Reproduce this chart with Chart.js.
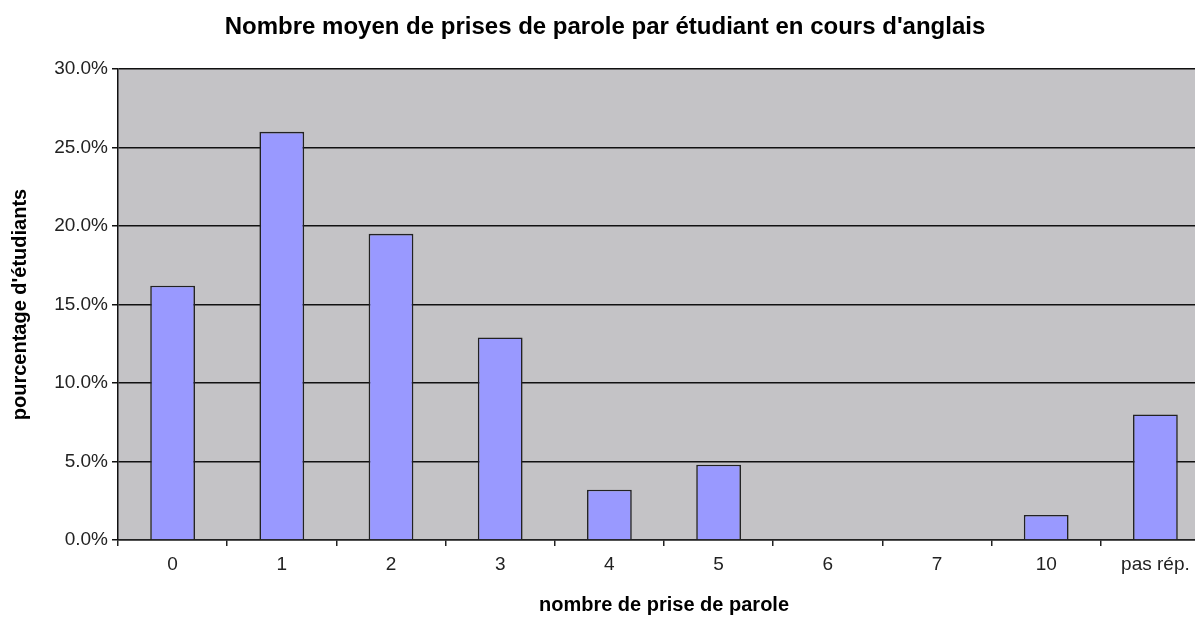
<!DOCTYPE html>
<html>
<head>
<meta charset="utf-8">
<script src="https://cdn.jsdelivr.net/npm/chart.js@4.4.1/dist/chart.umd.min.js"></script>
<style>
  html, body { margin: 0; padding: 0; background: #fff; overflow: hidden; }
  #wrap { position: relative; width: 1210px; height: 617px; }
</style>
</head>
<body>
<div id="wrap"><canvas id="chart"></canvas></div>
<script>
// données
const categories = ['0', '1', '2', '3', '4', '5', '6', '7', '10', 'pas rép.'];
const pourcentages = [16.2, 26.0, 19.5, 12.9, 3.2, 4.8, 0, 0, 1.6, 8.0];
const yTicks = [0, 5, 10, 15, 20, 25, 30];

const titre = "Nombre moyen de prises de parole par étudiant en cours d'anglais";
const titreX = 'nombre de prise de parole';
const titreY = "pourcentage d'étudiants";

// fond gris de la zone de traçage
const plotBackground = {
  id: 'plotBackground',
  beforeDraw(chart) {
    const { ctx, chartArea: a } = chart;
    ctx.save();
    ctx.fillStyle = '#c4c3c6';
    ctx.fillRect(a.left, a.top, a.right - a.left, a.bottom - a.top);
    ctx.restore();
  }
};

Chart.defaults.font.family = '"Liberation Sans", Arial, sans-serif';
Chart.defaults.color = '#222';

new Chart(document.getElementById('chart'), {
  type: 'bar',
  data: {
    labels: categories,
    datasets: [{
      data: pourcentages,
      backgroundColor: '#9999ff',
      borderColor: '#222',
      borderWidth: 1.6,
      categoryPercentage: 1,
      barPercentage: 0.41
    }]
  },
  options: {
    responsive: true,
    maintainAspectRatio: false,
    animation: false,
    layout: { padding: 0 },
    plugins: {
      legend: { display: false },
      tooltip: { enabled: false },
      title: {
        display: true,
        text: titre,
        color: '#000',
        font: { size: 24, weight: 'bold' },
        padding: { top: 13, bottom: 27.2 }
      }
    },
    scales: {
      x: {
        grid: {
          drawOnChartArea: false,
          drawTicks: true,
          tickLength: 6,
          color: '#222',
          lineWidth: 1.5,
          offset: true
        },
        border: { color: '#222', width: 1.5 },
        ticks: { font: { size: 19 }, padding: 7, color: '#222' },
        title: {
          display: true,
          text: titreX,
          color: '#000',
          font: { size: 20, weight: 'bold' },
          padding: { top: 0, bottom: 0 }
        },
        afterFit(scale) { scale.height = 77; }
      },
      y: {
        min: 0,
        max: 30,
        afterBuildTicks(scale) {
          scale.ticks = yTicks.map(v => ({ value: v }));
        },
        grid: {
          color: '#111',
          lineWidth: 1.5,
          tickLength: 6
        },
        border: { color: '#111', width: 1.5 },
        ticks: {
          font: { size: 19 },
          padding: 4,
          color: '#222',
          callback: v => v.toFixed(1) + '%'
        },
        title: {
          display: true,
          text: titreY,
          color: '#000',
          font: { size: 20, weight: 'bold' },
          padding: { top: 8, bottom: 0 }
        },
        afterFit(scale) { scale.width = 118; }
      }
    }
  },
  plugins: [plotBackground]
});
</script>
</body>
</html>
